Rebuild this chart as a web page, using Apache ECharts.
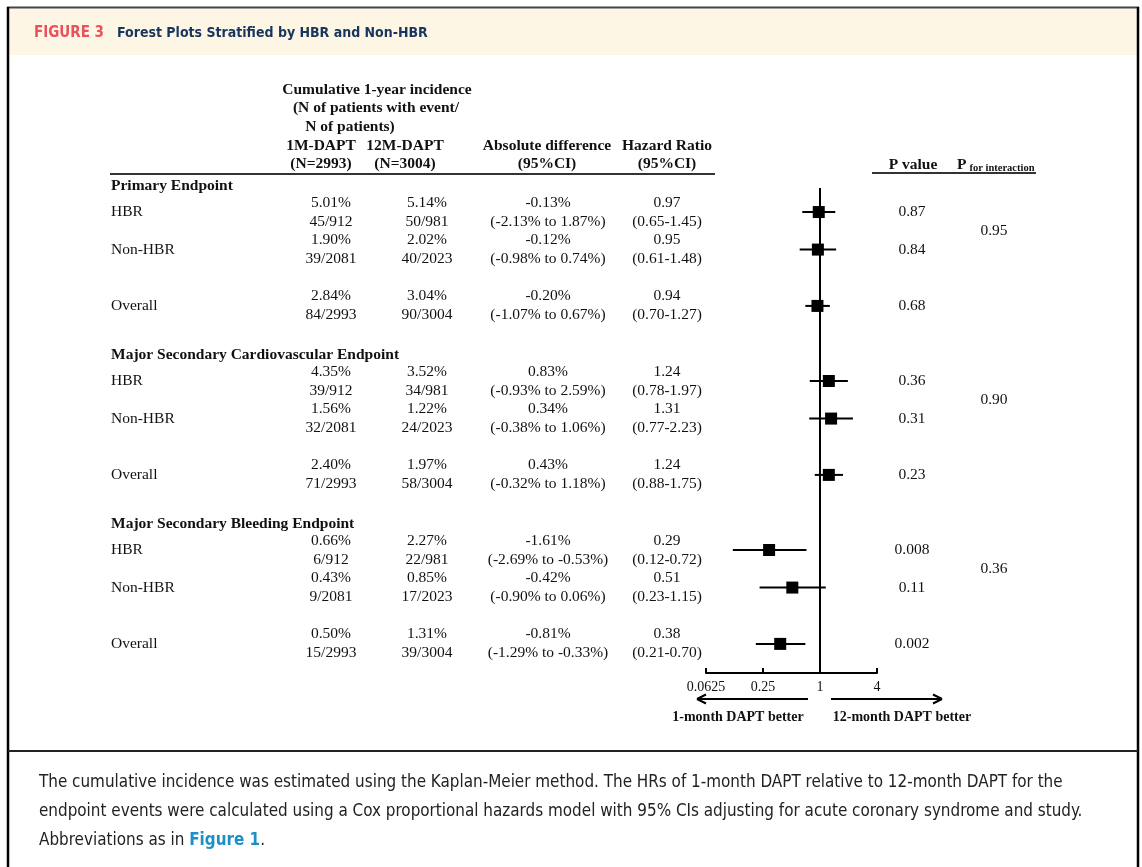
<!DOCTYPE html>
<html><head><meta charset="utf-8">
<style>html,body{margin:0;padding:0;background:#fff}#c{width:1142px;height:867px}</style>
<script src="https://cdn.jsdelivr.net/npm/echarts@6.0.0/dist/echarts.min.js"></script>
</head><body><div id="c"></div>
<script>
// ---------------- data ----------------
const figureLabel = 'FIGURE 3';
const figureTitle = 'Forest Plots Stratified by HBR and Non-HBR';
const groups = ['Primary Endpoint', 'Major Secondary Cardiovascular Endpoint', 'Major Secondary Bleeding Endpoint'];
const subgroups = ['HBR', 'Non-HBR', 'Overall'];
const pct1M = [['5.01%', '1.90%', '2.84%'], ['4.35%', '1.56%', '2.40%'], ['0.66%', '0.43%', '0.50%']];
const events1M = [['45/912', '39/2081', '84/2993'], ['39/912', '32/2081', '71/2993'], ['6/912', '9/2081', '15/2993']];
const pct12M = [['5.14%', '2.02%', '3.04%'], ['3.52%', '1.22%', '1.97%'], ['2.27%', '0.85%', '1.31%']];
const events12M = [['50/981', '40/2023', '90/3004'], ['34/981', '24/2023', '58/3004'], ['22/981', '17/2023', '39/3004']];
const absDiff = [['-0.13%', '-0.12%', '-0.20%'], ['0.83%', '0.34%', '0.43%'], ['-1.61%', '-0.42%', '-0.81%']];
const absCI = [['(-2.13% to 1.87%)', '(-0.98% to 0.74%)', '(-1.07% to 0.67%)'],
               ['(-0.93% to 2.59%)', '(-0.38% to 1.06%)', '(-0.32% to 1.18%)'],
               ['(-2.69% to -0.53%)', '(-0.90% to 0.06%)', '(-1.29% to -0.33%)']];
const hr = [[0.97, 0.95, 0.94], [1.24, 1.31, 1.24], [0.29, 0.51, 0.38]];
const hrLow = [[0.65, 0.61, 0.70], [0.78, 0.77, 0.88], [0.12, 0.23, 0.21]];
const hrHigh = [[1.45, 1.48, 1.27], [1.97, 2.23, 1.75], [0.72, 1.15, 0.70]];
const pValue = [['0.87', '0.84', '0.68'], ['0.36', '0.31', '0.23'], ['0.008', '0.11', '0.002']];
const pInteraction = ['0.95', '0.90', '0.36'];
const xTicks = [0.0625, 0.25, 1, 4];
const incidenceHeader = ['Cumulative 1-year incidence', '(N of patients with event/', 'N of patients)'];
const colHeaders = [['1M-DAPT', '(N=2993)'], ['12M-DAPT', '(N=3004)'], ['Absolute difference', '(95%CI)'], ['Hazard Ratio', '(95%CI)']];
const pValueHeader = 'P value';
const pIntHeader = ['P', 'for interaction'];
const arrowLabels = ['1-month DAPT better', '12-month DAPT better'];
const captionLines = [
  'The cumulative incidence was estimated using the Kaplan-Meier method. The HRs of 1-month DAPT relative to 12-month DAPT for the',
  'endpoint events were calculated using a Cox proportional hazards model with 95% CIs adjusting for acute coronary syndrome and study.',
  ['Abbreviations as in ', 'Figure 1', '.']
];

// ---------------- layout / style ----------------
const SERIF = '"Liberation Serif", "Times New Roman", serif';
const INK = '#111';
const ctx = document.createElement('canvas').getContext('2d');
function tw(text, font) { ctx.font = font; return ctx.measureText(text).width; }
function available(fam) {
  return tw('abcdefghijklmnopqrstuvwxyzABCDEF', '20px "' + fam + '", monospace') !== tw('abcdefghijklmnopqrstuvwxyzABCDEF', '20px monospace');
}
const condFam = ['Liberation Sans Narrow', 'DejaVu Sans Condensed', 'Roboto Condensed'].find(available);
const SANS = condFam ? '"' + condFam + '", Roboto, sans-serif' : 'Roboto, "Noto Sans", sans-serif';
function fit(text, weight, fam, width) { return 100 * width / tw(text, weight + ' 100px ' + fam); }

const slotOffsets = [0, 2, 5];
const groupStride = 9;
const slotOf = (g, s) => g * groupStride + slotOffsets[s];
const Y_MIN = -1.28, Y_MAX = 24.55;

const forestData = [];
groups.forEach((g, gi) => subgroups.forEach((s, si) => {
  forestData.push([hr[gi][si], hrLow[gi][si], hrHigh[gi][si], slotOf(gi, si)]);
}));

const chart = echarts.init(document.getElementById('c'), null, { renderer: 'canvas', width: 1142, height: 867 });

chart.setOption({
  animation: false,
  backgroundColor: '#fff',
  grid: { left: 706, top: 188, width: 171, height: 485, containLabel: false },
  xAxis: {
    type: 'log', logBase: 4, min: xTicks[0], max: xTicks[xTicks.length - 1],
    axisLine: { show: true, onZero: false, lineStyle: { color: '#000', width: 2 } },
    axisTick: { show: true, inside: true, length: 5, lineStyle: { color: '#000', width: 2 } },
    axisLabel: { color: INK, fontFamily: SERIF, fontSize: 14, margin: 7,
      formatter: v => String(+(+v).toPrecision(6)) },
    splitLine: { show: false }, minorTick: { show: false }
  },
  yAxis: { type: 'value', inverse: true, min: Y_MIN, max: Y_MAX, show: false },
  series: [
    { type: 'line', data: [[1, Y_MIN], [1, Y_MAX]], symbol: 'none', silent: true, z: 1,
      lineStyle: { color: '#000', width: 2 } },
    { type: 'custom', data: forestData, encode: { x: [0, 1, 2], y: 3 }, z: 3, clip: false,
      renderItem: function (params, api) {
        const c = api.coord([api.value(0), api.value(3)]);
        const l = api.coord([api.value(1), api.value(3)]);
        const h = api.coord([api.value(2), api.value(3)]);
        const s = 12;
        return { type: 'group', children: [
          { type: 'line', shape: { x1: l[0], y1: l[1], x2: h[0], y2: h[1] }, style: { stroke: '#000', lineWidth: 2 } },
          { type: 'rect', shape: { x: c[0] - s / 2, y: c[1] - s / 2, width: s, height: s }, style: { fill: '#000' } }
        ] };
      } }
  ]
});

const py = slot => chart.convertToPixel({ yAxisIndex: 0 }, slot);
const g = [];
function T(x, y, text, o) {
  o = o || {};
  g.push({ type: 'text', silent: true, z: 10, style: {
    text: text, x: x, y: y,
    font: (o.weight || 'normal') + ' ' + (o.size || 15.5) + 'px ' + (o.fam || SERIF),
    fill: o.fill || INK, align: o.align || 'center', verticalAlign: 'middle' } });
}
function L(x1, y1, x2, y2, w, col) {
  g.push({ type: 'line', silent: true, z: 9, shape: { x1, y1, x2, y2 }, style: { stroke: col || '#000', lineWidth: w || 2 } });
}

// frame and header band
g.push({ type: 'rect', silent: true, z: 0, shape: { x: 9, y: 9, width: 1128, height: 46 }, style: { fill: '#fdf6e4' } });
L(7, 7.5, 1139, 7.5, 2, '#444');
L(8, 7, 8, 867, 2.5, '#000');
L(1138, 7, 1138, 867, 2.5, '#000');
L(8, 751, 1138, 751, 2, '#222');

// title
const titleFs = Math.max(14, Math.min(15, fit(figureTitle, 'bold', SANS, 301)));
const labFs = Math.min(15, fit(figureLabel, 'bold', SANS, 70));
T(34, 33, figureLabel, { weight: 'bold', size: labFs, fam: SANS, fill: '#e8515d', align: 'left' });
T(117, 33, figureTitle, { weight: 'bold', size: titleFs, fam: SANS, fill: '#17355f', align: 'left' });

// table headers
const hdrY = [90, 108, 127, 146, 164];
T(377, hdrY[0], incidenceHeader[0], { weight: 'bold' });
T(376, hdrY[1], incidenceHeader[1], { weight: 'bold' });
T(350, hdrY[2], incidenceHeader[2], { weight: 'bold' });
const hdrX = [321, 405, 547, 667];
colHeaders.forEach((h, i) => { T(hdrX[i], hdrY[3], h[0], { weight: 'bold' }); T(hdrX[i], hdrY[4], h[1], { weight: 'bold' }); });
L(110, 174, 715, 174, 2, '#333');
T(913, 165, pValueHeader, { weight: 'bold' });
T(957, 165, pIntHeader[0], { weight: 'bold', align: 'left' });
T(957 + tw(pIntHeader[0], 'bold 15.5px ' + SERIF) + 3, 168, pIntHeader[1], { weight: 'bold', size: 10.5, align: 'left' });
L(872, 173, 1036, 173, 2, '#333');

// rows
const colX = { c1: 331, c2: 427, abs: 548, hr: 667, p: 912, pint: 994 };
groups.forEach((gname, gi) => {
  T(111, py(slotOf(gi, 0) - 1.4), gname, { weight: 'bold', align: 'left' });
  subgroups.forEach((sname, si) => {
    const cy = py(slotOf(gi, si));
    T(111, cy, sname, { align: 'left' });
    T(colX.c1, cy - 9.5, pct1M[gi][si]); T(colX.c1, cy + 9.5, events1M[gi][si]);
    T(colX.c2, cy - 9.5, pct12M[gi][si]); T(colX.c2, cy + 9.5, events12M[gi][si]);
    T(colX.abs, cy - 9.5, absDiff[gi][si]); T(colX.abs, cy + 9.5, absCI[gi][si]);
    T(colX.hr, cy - 9.5, hr[gi][si].toFixed(2));
    T(colX.hr, cy + 9.5, '(' + hrLow[gi][si].toFixed(2) + '-' + hrHigh[gi][si].toFixed(2) + ')');
    T(colX.p, cy, pValue[gi][si]);
  });
  T(colX.pint, (py(slotOf(gi, 0)) + py(slotOf(gi, 1))) / 2, pInteraction[gi]);
});

// direction arrows
const ay = 699;
L(808, ay, 697, ay, 2); L(697, ay, 706, ay - 4.5, 2); L(697, ay, 706, ay + 4.5, 2);
L(831, ay, 942, ay, 2); L(942, ay, 933, ay - 4.5, 2); L(942, ay, 933, ay + 4.5, 2);
T(738, 717, arrowLabels[0], { weight: 'bold', size: 14 });
T(902, 717, arrowLabels[1], { weight: 'bold', size: 14 });

// caption
const capFs = fit(captionLines[0], 'normal', SANS, 1025);
const capFont = 'normal ' + capFs + 'px ' + SANS;
const capY = [783, 812, 841];
T(39, capY[0], captionLines[0], { size: capFs, fam: SANS, fill: '#222', align: 'left' });
T(39, capY[1], captionLines[1], { size: capFs, fam: SANS, fill: '#222', align: 'left' });
let cx = 39;
T(cx, capY[2], captionLines[2][0], { size: capFs, fam: SANS, fill: '#222', align: 'left' });
cx += tw(captionLines[2][0], capFont);
T(cx, capY[2], captionLines[2][1], { size: capFs, fam: SANS, fill: '#1d8fc8', weight: 'bold', align: 'left' });
cx += tw(captionLines[2][1], 'bold ' + capFs + 'px ' + SANS);
T(cx, capY[2], captionLines[2][2], { size: capFs, fam: SANS, fill: '#222', align: 'left' });

chart.setOption({ graphic: { elements: g } });
</script>
</body></html>
